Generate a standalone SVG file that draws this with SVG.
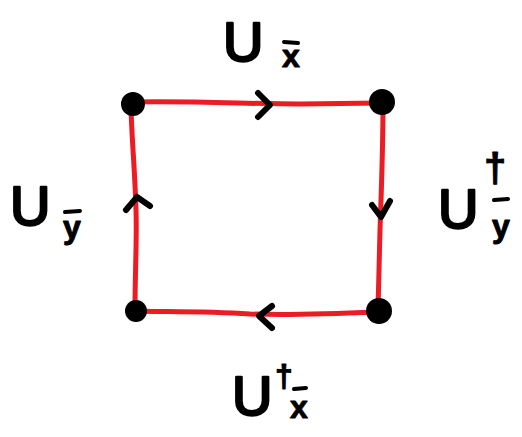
<svg xmlns="http://www.w3.org/2000/svg" width="522" height="437" viewBox="0 0 522 437">
<style>
.edge{fill:none;stroke:#ec1c24;stroke-width:5;stroke-linecap:round;stroke-linejoin:round}
.arr{fill:none;stroke:#000;stroke-width:6;stroke-linecap:round;stroke-linejoin:round}
.dot{fill:#000}
.lbl{font-family:"Liberation Sans",Arial,sans-serif;fill:#000;stroke:#000;stroke-linejoin:round}
.big{font-size:56px;stroke-width:2.5}
.sub{font-size:32px;font-weight:bold;stroke-width:1}
.bar{stroke:#000;stroke-width:4;stroke-linecap:round}
</style>
<rect width="522" height="437" fill="#fff"/>
<g id="connectors">
<path class="edge" d="M133,102 C200,101 250,104 300,104 L381,103"/>
<path class="edge" d="M383,104 C383,150 381,200 380,230 L378,310"/>
<path class="edge" d="M377,312 C330,314 280,315 250,314 C200,311 160,312 135,311"/>
<path class="edge" d="M135,311 C135,270 137,240 136,210 C135,170 131,130 131,104"/>
<path class="arr" d="M258,93 L270,105 L258,117"/>
<path class="arr" d="M372,205 L381,217 L390,201"/>
<path class="arr" d="M272,306 L259,316 L272,328"/>
<path class="arr" d="M126,210 L137,197 L150,206"/>
</g>
<g id="node-tl"><circle class="dot" cx="133" cy="104" r="12"/></g>
<g id="node-tr"><circle class="dot" cx="382" cy="102" r="13"/></g>
<g id="node-br"><circle class="dot" cx="379" cy="311" r="13"/></g>
<g id="node-bl"><circle class="dot" cx="136" cy="311" r="11"/></g>
<g id="label-top">
<text class="lbl big" x="223" y="61">U</text>
<line class="bar" x1="284" y1="42" x2="298" y2="43"/>
<text class="lbl sub" x="282" y="67">x</text>
</g>
<g id="label-left">
<text class="lbl big" x="10" y="225">U</text>
<line class="bar" x1="65" y1="212" x2="80" y2="211"/>
<text class="lbl sub" x="63" y="238">y</text>
</g>
<g id="label-right">
<text class="lbl big" x="438" y="228">U</text>
<text class="lbl sub" x="484" y="182" style="font-size:40px">†</text>
<line class="bar" x1="494" y1="200" x2="508" y2="199"/>
<text class="lbl sub" x="492" y="237">y</text>
</g>
<g id="label-bottom">
<text class="lbl big" x="232" y="415">U</text>
<text class="lbl sub" x="275" y="387">†</text>
<line class="bar" x1="294" y1="389" x2="306" y2="388"/>
<text class="lbl sub" x="290" y="418">x</text>
</g>
</svg>
